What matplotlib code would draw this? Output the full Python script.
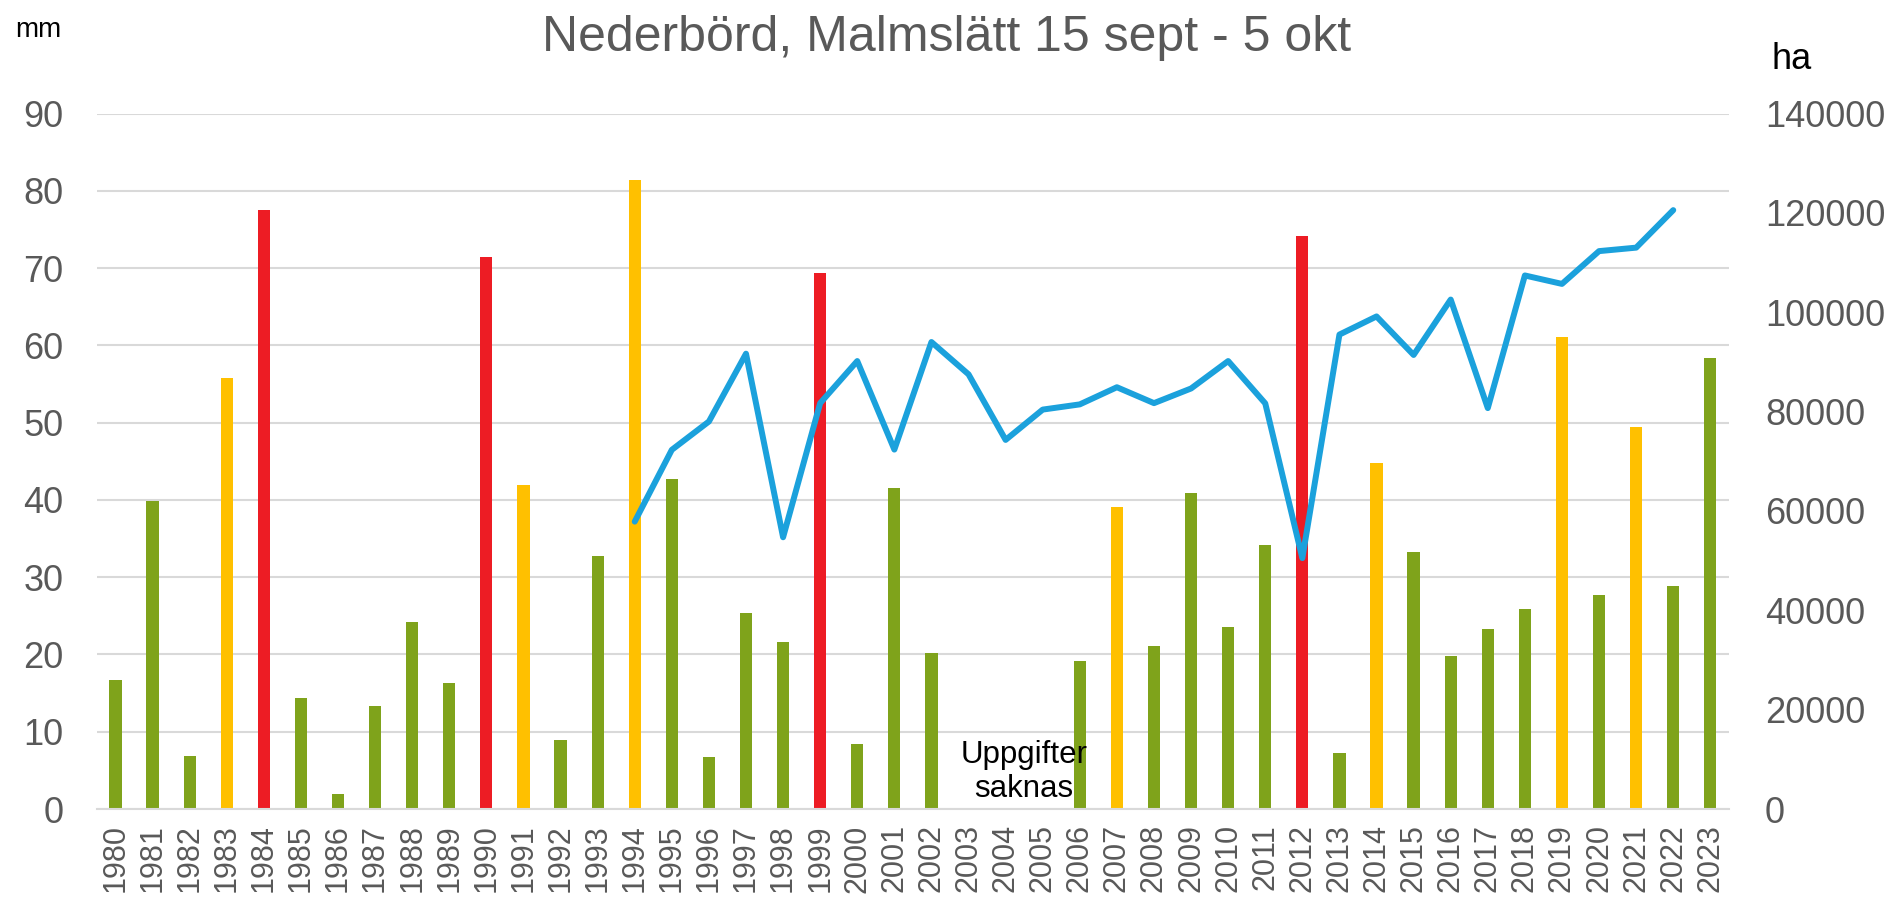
import matplotlib
matplotlib.use("Agg")
import matplotlib.pyplot as plt
import numpy as np

plt.rcParams['font.family'] = ['Liberation Sans', 'DejaVu Sans']

years = list(range(1980, 2024))
rain_mm = [16.7, 39.8, 6.9, 55.8, 77.5, 14.4, 2.0, 13.3, 24.2, 16.3,
           71.4, 41.9, 8.9, 32.7, 81.4, 42.7, 6.7, 25.3, 21.6, 69.4,
           8.4, 41.6, 20.2, np.nan, np.nan, np.nan, 19.2, 39.1, 21.1, 40.9,
           23.6, 34.2, 74.1, 7.3, 44.8, 33.3, 19.8, 23.3, 25.9, 61.1,
           27.7, 49.4, 28.9, 58.3]
bar_class = ['g', 'g', 'g', 'y', 'r', 'g', 'g', 'g', 'g', 'g',
             'r', 'y', 'g', 'g', 'y', 'g', 'g', 'g', 'g', 'r',
             'g', 'g', 'g', 'g', 'g', 'g', 'g', 'y', 'g', 'g',
             'g', 'g', 'r', 'g', 'y', 'g', 'g', 'g', 'g', 'y',
             'g', 'y', 'g', 'g']
area_years = list(range(1994, 2023))
area_ha = [57850, 72300, 78000, 91650, 54700, 81700, 90170, 72350, 94000,
           87500, 74300, 80400, 81450, 84900, 81700, 84650, 90170, 81650,
           50500, 95500, 99150, 91400, 102550, 80700, 107400, 105700,
           112300, 113000, 120550]

colors = {'g': '#7FA31B', 'y': '#FFC000', 'r': '#ED1C24'}

fig = plt.figure(figsize=(18.93, 8.98), dpi=100)
ax = fig.add_axes([0.0512, 0.0991, 0.8621, 0.7745])
x = np.arange(len(years))
ax.bar(x, rain_mm, width=0.33, color=[colors[c] for c in bar_class], zorder=2)
ax.set_xlim(-0.5, len(years) - 0.5)
ax.set_ylim(0, 90)
ax.set_yticks(range(0, 100, 10))
ax.set_xticks(x)
ax.set_xticklabels([str(y) for y in years], rotation=90, fontsize=22, color='#595959')
ax.tick_params(axis='y', labelsize=26, labelcolor='#595959', length=0, pad=24)
ax.tick_params(axis='x', length=0, pad=11)
ax.grid(axis='y', color='#d9d9d9', linewidth=1.5, zorder=0)
ax.set_axisbelow(True)
for s in ['top', 'right', 'left']:
    ax.spines[s].set_visible(False)
ax.spines['bottom'].set_color('#d9d9d9')
ax.spines['bottom'].set_linewidth(1.5)

ax2 = ax.twinx()
ax2.set_ylim(0, 140000)
ax2.set_yticks(range(0, 140001, 20000))
ax2.plot([years.index(y) for y in area_years], area_ha, color='#1BA1DC',
         linewidth=4.3, solid_joinstyle='round', solid_capstyle='round', zorder=3)
ax2.tick_params(axis='y', labelsize=26, labelcolor='#595959', length=0, pad=26)
for s in ['top', 'right', 'left', 'bottom']:
    ax2.spines[s].set_visible(False)

ax.text(years.index(2004) + 0.5, 4.8, 'Uppgifter\nsaknas', ha='center', va='center',
        fontsize=22.5, color='black', linespacing=1.15, zorder=4)

fig.text(0.5, 0.9435, 'Nederbörd, Malmslätt 15 sept - 5 okt', ha='center', va='baseline',
         fontsize=36, color='#595959')
fig.text(0.0079, 0.959, 'mm', ha='left', va='baseline', fontsize=20, color='black')
fig.text(0.936, 0.923, 'ha', ha='left', va='baseline', fontsize=26, color='black')

fig.savefig('out.png', dpi=100)
